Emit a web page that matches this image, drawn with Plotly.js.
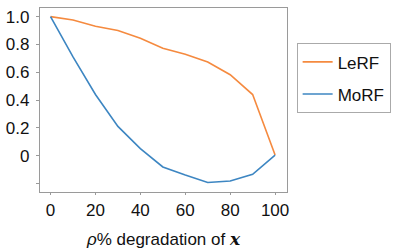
<!DOCTYPE html>
<html>
<head>
<meta charset="utf-8">
<script src="https://cdn.plot.ly/plotly-3.0.1.min.js"></script>
<style>html,body{margin:0;padding:0;background:#fff;}#chart{width:395px;height:249px;}</style>
</head>
<body>
<div id="chart"></div>
<script>
const xValues = [0, 10, 20, 30, 40, 50, 60, 70, 80, 90, 100];
const lerf = [1.0, 0.976, 0.93, 0.90, 0.845, 0.773, 0.73, 0.673, 0.582, 0.439, 0.004];
const morf = [1.0, 0.71, 0.44, 0.21, 0.05, -0.082, -0.14, -0.194, -0.183, -0.135, 0.004];
const seriesNames = ['LeRF', 'MoRF'];
const xTickVals = [0, 20, 40, 60, 80, 100];
const yTickVals = [1.0, 0.8, 0.6, 0.4, 0.2, 0.0, -0.2];
const yTickText = ['1.0', '0.8', '0.6', '0.4', '0.2', '0', ''];

const font = 'Liberation Sans, Arial, sans-serif';
const traces = [
  {x: xValues, y: lerf, name: seriesNames[0], mode: 'lines', legendgroup: 'a',
   line: {color: '#f58a3f', width: 1.6}},
  {x: xValues, y: morf, name: seriesNames[1], mode: 'lines', legendgroup: 'b',
   line: {color: '#3d86c2', width: 1.6}}
];
const layout = {
  width: 395, height: 249,
  margin: {l: 40, r: 108, t: 8, b: 57, autoexpand: false},
  paper_bgcolor: '#fff', plot_bgcolor: '#fff',
  font: {family: font, size: 17, color: '#111'},
  xaxis: {
    range: [-4.7, 105.3], tickvals: xTickVals, showgrid: false, zeroline: false,
    automargin: false,
    showline: true, linecolor: '#9a9a9a', linewidth: 1.2, mirror: true,
    ticks: 'outside', ticklen: 2, tickcolor: '#9a9a9a',
    tickfont: {family: font, size: 17, color: '#111'},
    title: {text: '<i>ρ</i>% degradation of <span style="font-family:DejaVu Serif,serif"><b><i>x</i></b></span>',
            font: {family: font, size: 17, color: '#111'}, standoff: 17}
  },
  yaxis: {
    range: [-0.262, 1.062], tickvals: yTickVals, ticktext: yTickText,
    showgrid: false, zeroline: false, automargin: false,
    showline: true, linecolor: '#9a9a9a', linewidth: 1.2, mirror: true,
    ticks: 'outside', ticklen: 3, tickcolor: '#9a9a9a', ticklabelstandoff: 3,
    tickfont: {family: font, size: 17, color: '#111'}
  },
  showlegend: true,
  legend: {
    x: 1.039, y: 0.808, xanchor: 'left', yanchor: 'top',
    bordercolor: '#aaa', borderwidth: 1, bgcolor: '#fff',
    font: {family: font, size: 17, color: '#111'},
    traceorder: 'grouped', tracegroupgap: 7
  }
};
Plotly.newPlot('chart', traces, layout, {displayModeBar: false, staticPlot: true});
</script>
</body>
</html>
